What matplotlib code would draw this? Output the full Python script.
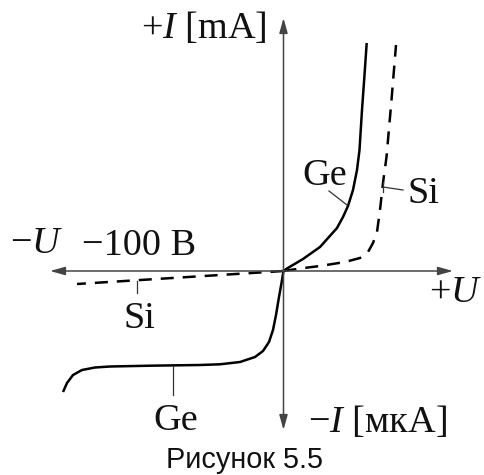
import numpy as np
import matplotlib
matplotlib.use("Agg")
import matplotlib.pyplot as plt

plt.rcParams["mathtext.fontset"] = "custom"
plt.rcParams["mathtext.rm"] = "Liberation Serif"
plt.rcParams["mathtext.it"] = "Liberation Serif:italic"

# Schematic I-V characteristics (arbitrary units, origin at 0,0)
# forward branch: U > 0, I in mA ; reverse branch: U < 0, I in uA
ge_fwd_u = [0, 0.35, 1.95, 3.65, 5.35, 5.95, 6.45, 6.95, 7.35, 7.6, 7.85, 8.1, 8.32]
ge_fwd_i = [0, 0.25, 1.2, 2.4, 4.3, 5.4, 6.5, 8.1, 10.1, 12.1, 16.1, 19.6, 22.8]

si_fwd_u = [0, 1.65, 3.65, 6.15, 7.65, 8.45, 8.95, 9.35, 9.65, 9.95, 10.3, 10.8, 11.25]
si_fwd_i = [0, 0.25, 0.5, 0.9, 1.3, 1.9, 2.8, 3.9, 6.1, 8.8, 11.4, 17.1, 22.6]

ge_rev_u = [0, -0.2, -0.45, -0.75, -1.05, -1.45, -2.05, -2.85, -4.35, -6.35,
            -8.35, -13.35, -17.35, -18.85, -20.15, -21.05, -21.65, -22.05]
ge_rev_i = [0, -1.2, -2.6, -4.4, -5.9, -7.1, -8.0, -8.6, -9.1, -9.33,
            -9.4, -9.47, -9.55, -9.65, -9.9, -10.4, -11.2, -12.1]

si_rev_u = [0, -20.65]
si_rev_i = [0, -1.3]

SERIF = "Liberation Serif"
FS = 27.5
LW = 1.8
DASH = (5.2, 3.6)

fig = plt.figure(figsize=(4.84, 4.75), dpi=100)
ax = fig.add_axes([0, 0, 1, 1])
ax.set_xlim(-28.35, 20.05)
ax.set_ylim(-20.4, 27.1)
ax.axis("off")

# coordinate axes with arrow heads on both ends
arrow = dict(arrowstyle="<|-|>,head_length=0.9,head_width=0.25", color="#444444",
             lw=1.1, shrinkA=0, shrinkB=0, mutation_scale=10)
ax.annotate("", xy=(-23.35, 0), xytext=(16.95, 0), arrowprops=arrow)
ax.annotate("", xy=(0, 25.3), xytext=(0, -15.9), arrowprops=arrow)

# curves
ax.plot(ge_fwd_u, ge_fwd_i, color="black", lw=LW, solid_capstyle="butt")
ax.plot(ge_rev_u, ge_rev_i, color="black", lw=LW, solid_capstyle="butt")
ax.plot(si_fwd_u, si_fwd_i, color="black", lw=LW, dashes=DASH)
ax.plot(si_rev_u, si_rev_i, color="black", lw=LW, dashes=DASH)

# leader lines for curve labels
lead = dict(color="#333333", lw=0.9)
ax.plot([4.55, 6.35], [8.0, 6.6], **lead)
ax.plot([9.95, 11.95], [8.4, 8.1], **lead)
ax.plot([9.95, 9.95], [8.9, 7.9], **lead)
ax.plot([-14.68, -14.68], [-1.0, -2.2], **lead)
ax.plot([-11.05, -11.05], [-9.5, -12.4], **lead)

txt = dict(family=SERIF, fontsize=FS, va="baseline", color="#111111")
ax.text(-1.65, 23.3, r"$+I$ [mA]", ha="right", **txt)
ax.text(-27.35, 1.8, r"$-U$", ha="left", **txt)
ax.text(-20.15, 1.6, "\u2212100 В", ha="left", **txt)
ax.text(14.55, -3.1, r"$+U$", ha="left", **txt)
ax.text(2.45, -16.1, r"$-I$ [мкА]", ha="left", **txt)
ax.text(1.85, 8.6, "Ge", ha="left", **txt)
ax.text(12.45, 6.8, "Si", ha="left", **txt)
ax.text(-16.05, -5.7, "Si", ha="left", **txt)
ax.text(-13.05, -15.9, "Ge", ha="left", **txt)

ax.text(-3.95, -19.7, "Рисунок 5.5", ha="center", va="baseline",
        family="Liberation Sans", fontsize=20.8, color="#111111")

fig.savefig("out.png", dpi=100)
